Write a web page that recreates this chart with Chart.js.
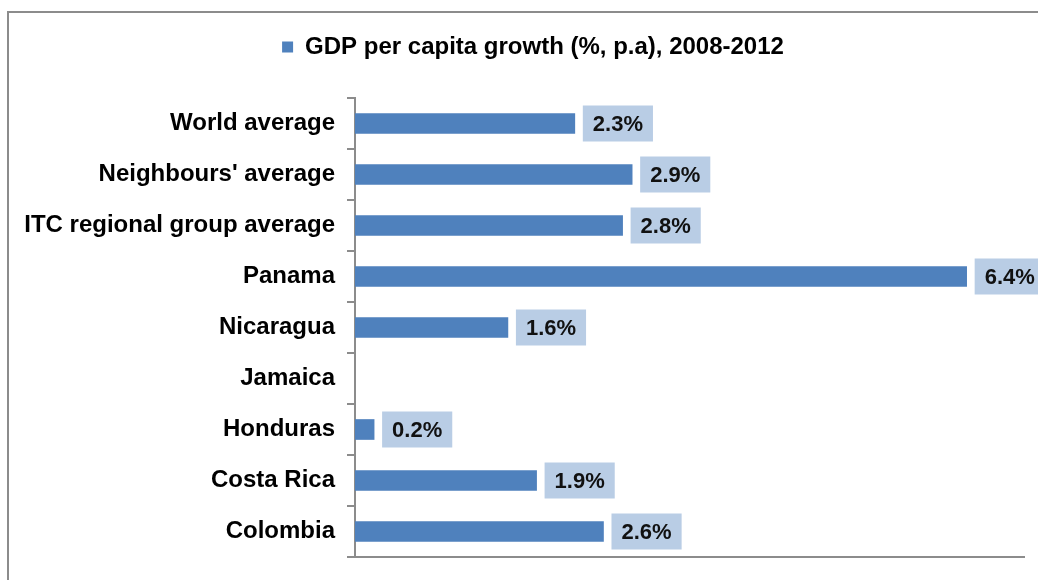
<!DOCTYPE html>
<html>
<head>
<meta charset="utf-8">
<script src="https://cdn.jsdelivr.net/npm/chart.js@4.4.1/dist/chart.umd.min.js"></script>
<style>
  html, body { margin: 0; padding: 0; background: #fff; }
  #wrap { width: 1038px; height: 580px; }
</style>
</head>
<body>
<div id="wrap"><canvas id="barChart" width="1038" height="580"></canvas></div>
<script>
// data
const categories = [
    "World average",
    "Neighbours' average",
    "ITC regional group average",
    "Panama",
    "Nicaragua",
    "Jamaica",
    "Honduras",
    "Costa Rica",
    "Colombia"
];
const growth = [2.3, 2.9, 2.8, 6.4, 1.6, null, 0.2, 1.9, 2.6];
const seriesName = "GDP per capita growth (%, p.a), 2008-2012";

const FONT = "'Liberation Sans', Arial, sans-serif";
const AXIS_GREY = "#8c8c8c";

// grey frame round the whole chart (only top and left show in the crop)
const framePlugin = {
    id: "frame",
    beforeDraw(chart) {
        const ctx = chart.ctx;
        ctx.save();
        ctx.strokeStyle = AXIS_GREY;
        ctx.lineWidth = 2;
        ctx.strokeRect(8, 12, 1200, 800);
        ctx.restore();
    }
};

// push the plot area down below the legend, and nudge legend to the right
const legendGap = {
    id: "legendGap",
    beforeInit(chart) {
        const fit = chart.legend.fit;
        chart.legend.fit = function () {
            fit.bind(chart.legend)();
            this.height = 73;
        };
    },
    afterLayout(chart) {
        chart.legend.left += 11;
        chart.legend.right += 11;
    }
};

// value labels in light blue boxes next to each bar
const valueLabels = {
    id: "valueLabels",
    afterDatasetsDraw(chart) {
        const ctx = chart.ctx;
        const meta = chart.getDatasetMeta(0);
        ctx.save();
        ctx.font = "bold 22px " + FONT;
        ctx.textBaseline = "middle";
        ctx.textAlign = "left";
        meta.data.forEach((bar, i) => {
            const v = growth[i];
            if (v === null) return;
            const txt = v.toFixed(1) + "%";
            const w = ctx.measureText(txt).width;
            const x = bar.x + 8;
            const h = 36;
            ctx.fillStyle = "#b9cde5";
            ctx.fillRect(x, bar.y - h / 2, w + 20, h);
            ctx.fillStyle = "#111";
            ctx.fillText(txt, x + 10, bar.y + 1);
        });
        ctx.restore();
    }
};

new Chart(document.getElementById("barChart").getContext("2d"), {
    type: "bar",
    data: {
        labels: categories,
        datasets: [{
            label: seriesName,
            data: growth,
            backgroundColor: "#4f81bd",
            barThickness: 20
        }]
    },
    options: {
        indexAxis: "y",
        responsive: false,
        animation: false,
        devicePixelRatio: 1,
        layout: {
            padding: { top: 25, left: 20, right: 14, bottom: 23 }
        },
        plugins: {
            legend: {
                display: true,
                position: "top",
                labels: {
                    boxWidth: 11,
                    boxHeight: 11,
                    color: "#000",
                    font: { family: FONT, size: 24, weight: "bold" }
                }
            },
            tooltip: { enabled: false }
        },
        scales: {
            x: {
                min: 0,
                max: 7,
                afterFit(scale) {
                    scale.height = 0;
                    scale.paddingLeft = 0;
                    scale.paddingRight = 0;
                },
                ticks: { display: false },
                grid: { display: false, drawTicks: false },
                border: { display: true, color: AXIS_GREY, width: 2 }
            },
            y: {
                afterFit(scale) {
                    scale.width = 335;
                    scale.paddingTop = 0;
                    scale.paddingBottom = 0;
                },
                ticks: {
                    color: "#000",
                    padding: 12,
                    autoSkip: false,
                    font: { family: FONT, size: 24, weight: "bold" }
                },
                grid: {
                    display: true,
                    drawOnChartArea: false,
                    drawTicks: true,
                    tickLength: 8,
                    offset: true,
                    color: AXIS_GREY,
                    lineWidth: 2
                },
                border: { display: true, color: AXIS_GREY, width: 2 }
            }
        }
    },
    plugins: [framePlugin, legendGap, valueLabels]
});
</script>
</body>
</html>
